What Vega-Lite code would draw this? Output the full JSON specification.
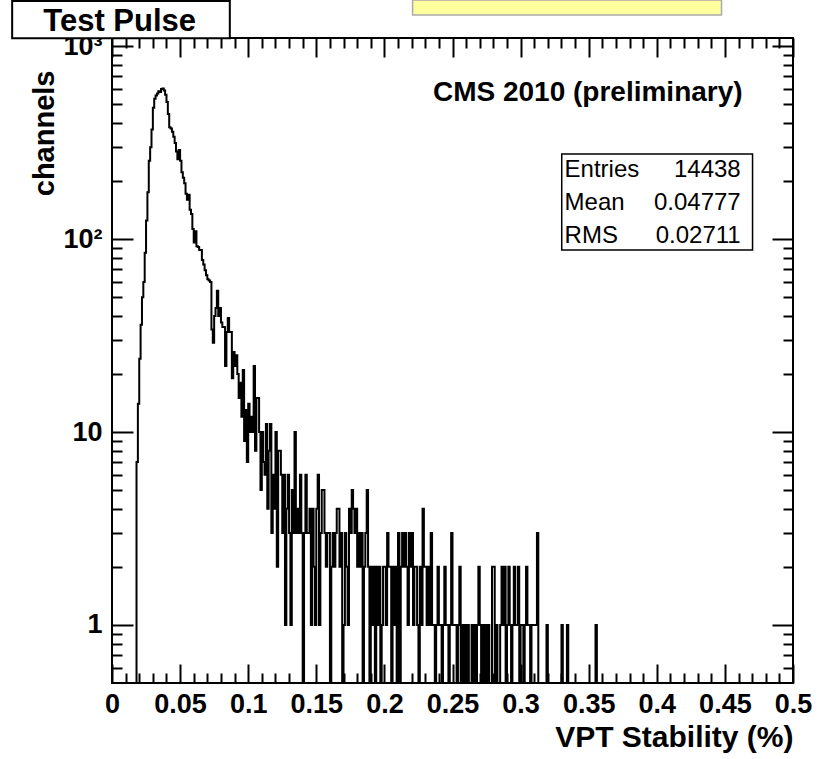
{
"$schema": "https://vega.github.io/schema/vega-lite/v6.json",
"width": 681,
"height": 645,
"autosize": {"type": "none"},
"padding": {"left": 112, "top": 38, "right": 35, "bottom": 76},
"background": "white",
"datasets": {
"h": [
{"x":0.000,"n":0},{"x":0.001,"n":0},{"x":0.002,"n":0},{"x":0.003,"n":0},{"x":0.004,"n":0},{"x":0.005,"n":0},{"x":0.006,"n":0},{"x":0.007,"n":0},{"x":0.008,"n":0},{"x":0.009,"n":0},
{"x":0.010,"n":0},{"x":0.011,"n":0},{"x":0.012,"n":0},{"x":0.013,"n":0},{"x":0.014,"n":0},{"x":0.015,"n":0},{"x":0.016,"n":0},{"x":0.017,"n":0},{"x":0.018,"n":7},{"x":0.019,"n":14},
{"x":0.020,"n":24},{"x":0.021,"n":36},{"x":0.022,"n":50},{"x":0.023,"n":60},{"x":0.024,"n":85},{"x":0.025,"n":125},{"x":0.026,"n":175},{"x":0.027,"n":255},{"x":0.028,"n":300},{"x":0.029,"n":370},
{"x":0.030,"n":480},{"x":0.031,"n":535},{"x":0.032,"n":555},{"x":0.033,"n":570},{"x":0.034,"n":585},{"x":0.035,"n":580},{"x":0.036,"n":600},{"x":0.037,"n":605},{"x":0.038,"n":590},{"x":0.039,"n":560},
{"x":0.040,"n":515},{"x":0.041,"n":445},{"x":0.042,"n":380},{"x":0.043,"n":375},{"x":0.044,"n":360},{"x":0.045,"n":340},{"x":0.046,"n":315},{"x":0.047,"n":285},{"x":0.048,"n":260},{"x":0.049,"n":290},
{"x":0.050,"n":255},{"x":0.051,"n":222},{"x":0.052,"n":208},{"x":0.053,"n":195},{"x":0.054,"n":172},{"x":0.055,"n":160},{"x":0.056,"n":170},{"x":0.057,"n":142},{"x":0.058,"n":135},{"x":0.059,"n":113},
{"x":0.060,"n":96},{"x":0.061,"n":110},{"x":0.062,"n":92},{"x":0.063,"n":91},{"x":0.064,"n":88},{"x":0.065,"n":88},{"x":0.066,"n":78},{"x":0.067,"n":74},{"x":0.068,"n":69},{"x":0.069,"n":65},
{"x":0.070,"n":62},{"x":0.071,"n":61},{"x":0.072,"n":60},{"x":0.073,"n":34},{"x":0.074,"n":29},{"x":0.075,"n":40},{"x":0.076,"n":44},{"x":0.077,"n":54},{"x":0.078,"n":40},{"x":0.079,"n":44},
{"x":0.080,"n":37},{"x":0.081,"n":35},{"x":0.082,"n":35},{"x":0.083,"n":22},{"x":0.084,"n":33},{"x":0.085,"n":39},{"x":0.086,"n":33},{"x":0.087,"n":33},{"x":0.088,"n":19},{"x":0.089,"n":26},
{"x":0.090,"n":22},{"x":0.091,"n":25},{"x":0.092,"n":20},{"x":0.093,"n":15},{"x":0.094,"n":18},{"x":0.095,"n":12},{"x":0.096,"n":21},{"x":0.097,"n":9},{"x":0.098,"n":13},{"x":0.099,"n":7},
{"x":0.100,"n":14},{"x":0.101,"n":10},{"x":0.102,"n":12},{"x":0.103,"n":10},{"x":0.104,"n":22},{"x":0.105,"n":8},{"x":0.106,"n":15},{"x":0.107,"n":15},{"x":0.108,"n":10},{"x":0.109,"n":5},
{"x":0.110,"n":10},{"x":0.111,"n":7},{"x":0.112,"n":6},{"x":0.113,"n":11},{"x":0.114,"n":4},{"x":0.115,"n":8},{"x":0.116,"n":11},{"x":0.117,"n":3},{"x":0.118,"n":6},{"x":0.119,"n":4},
{"x":0.120,"n":10},{"x":0.121,"n":2},{"x":0.122,"n":8},{"x":0.123,"n":8},{"x":0.124,"n":6},{"x":0.125,"n":3},{"x":0.126,"n":6},{"x":0.127,"n":1},{"x":0.128,"n":4},{"x":0.129,"n":6},
{"x":0.130,"n":3},{"x":0.131,"n":1},{"x":0.132,"n":5},{"x":0.133,"n":3},{"x":0.134,"n":10},{"x":0.135,"n":3},{"x":0.136,"n":4},{"x":0.137,"n":3},{"x":0.138,"n":6},{"x":0.139,"n":3},
{"x":0.140,"n":0},{"x":0.141,"n":3},{"x":0.142,"n":6},{"x":0.143,"n":3},{"x":0.144,"n":3},{"x":0.145,"n":4},{"x":0.146,"n":1},{"x":0.147,"n":4},{"x":0.148,"n":2},{"x":0.149,"n":1},
{"x":0.150,"n":4},{"x":0.151,"n":6},{"x":0.152,"n":1},{"x":0.153,"n":3},{"x":0.154,"n":5},{"x":0.155,"n":5},{"x":0.156,"n":3},{"x":0.157,"n":2},{"x":0.158,"n":3},{"x":0.159,"n":3},
{"x":0.160,"n":0},{"x":0.161,"n":2},{"x":0.162,"n":3},{"x":0.163,"n":2},{"x":0.164,"n":3},{"x":0.165,"n":4},{"x":0.166,"n":4},{"x":0.167,"n":2},{"x":0.168,"n":3},{"x":0.169,"n":0},
{"x":0.170,"n":1},{"x":0.171,"n":3},{"x":0.172,"n":2},{"x":0.173,"n":1},{"x":0.174,"n":4},{"x":0.175,"n":3},{"x":0.176,"n":5},{"x":0.177,"n":4},{"x":0.178,"n":3},{"x":0.179,"n":4},
{"x":0.180,"n":2},{"x":0.181,"n":3},{"x":0.182,"n":2},{"x":0.183,"n":3},{"x":0.184,"n":0},{"x":0.185,"n":2},{"x":0.186,"n":3},{"x":0.187,"n":5},{"x":0.188,"n":2},{"x":0.189,"n":0},
{"x":0.190,"n":2},{"x":0.191,"n":1},{"x":0.192,"n":2},{"x":0.193,"n":0},{"x":0.194,"n":2},{"x":0.195,"n":1},{"x":0.196,"n":2},{"x":0.197,"n":0},{"x":0.198,"n":1},{"x":0.199,"n":2},
{"x":0.200,"n":2},{"x":0.201,"n":1},{"x":0.202,"n":3},{"x":0.203,"n":2},{"x":0.204,"n":2},{"x":0.205,"n":0},{"x":0.206,"n":2},{"x":0.207,"n":1},{"x":0.208,"n":2},{"x":0.209,"n":0},
{"x":0.210,"n":3},{"x":0.211,"n":0},{"x":0.212,"n":2},{"x":0.213,"n":3},{"x":0.214,"n":2},{"x":0.215,"n":3},{"x":0.216,"n":2},{"x":0.217,"n":1},{"x":0.218,"n":3},{"x":0.219,"n":2},
{"x":0.220,"n":3},{"x":0.221,"n":1},{"x":0.222,"n":2},{"x":0.223,"n":2},{"x":0.224,"n":1},{"x":0.225,"n":0},{"x":0.226,"n":2},{"x":0.227,"n":1},{"x":0.228,"n":4},{"x":0.229,"n":2},
{"x":0.230,"n":2},{"x":0.231,"n":1},{"x":0.232,"n":2},{"x":0.233,"n":1},{"x":0.234,"n":3},{"x":0.235,"n":1},{"x":0.236,"n":1},{"x":0.237,"n":0},{"x":0.238,"n":1},{"x":0.239,"n":2},
{"x":0.240,"n":1},{"x":0.241,"n":1},{"x":0.242,"n":0},{"x":0.243,"n":1},{"x":0.244,"n":2},{"x":0.245,"n":1},{"x":0.246,"n":1},{"x":0.247,"n":0},{"x":0.248,"n":1},{"x":0.249,"n":3},
{"x":0.250,"n":1},{"x":0.251,"n":1},{"x":0.252,"n":1},{"x":0.253,"n":0},{"x":0.254,"n":1},{"x":0.255,"n":2},{"x":0.256,"n":0},{"x":0.257,"n":1},{"x":0.258,"n":0},{"x":0.259,"n":1},
{"x":0.260,"n":0},{"x":0.261,"n":1},{"x":0.262,"n":0},{"x":0.263,"n":0},{"x":0.264,"n":1},{"x":0.265,"n":0},{"x":0.266,"n":1},{"x":0.267,"n":0},{"x":0.268,"n":1},{"x":0.269,"n":2},
{"x":0.270,"n":1},{"x":0.271,"n":0},{"x":0.272,"n":1},{"x":0.273,"n":0},{"x":0.274,"n":1},{"x":0.275,"n":0},{"x":0.276,"n":1},{"x":0.277,"n":0},{"x":0.278,"n":0},{"x":0.279,"n":2},
{"x":0.280,"n":2},{"x":0.281,"n":0},{"x":0.282,"n":1},{"x":0.283,"n":0},{"x":0.284,"n":0},{"x":0.285,"n":1},{"x":0.286,"n":2},{"x":0.287,"n":1},{"x":0.288,"n":2},{"x":0.289,"n":0},
{"x":0.290,"n":1},{"x":0.291,"n":2},{"x":0.292,"n":1},{"x":0.293,"n":0},{"x":0.294,"n":1},{"x":0.295,"n":2},{"x":0.296,"n":1},{"x":0.297,"n":1},{"x":0.298,"n":2},{"x":0.299,"n":0},
{"x":0.300,"n":1},{"x":0.301,"n":1},{"x":0.302,"n":0},{"x":0.303,"n":1},{"x":0.304,"n":2},{"x":0.305,"n":1},{"x":0.306,"n":1},{"x":0.307,"n":0},{"x":0.308,"n":1},{"x":0.309,"n":1},
{"x":0.310,"n":1},{"x":0.311,"n":1},{"x":0.312,"n":3},{"x":0.313,"n":0},{"x":0.314,"n":0},{"x":0.315,"n":0},{"x":0.316,"n":0},{"x":0.317,"n":0},{"x":0.318,"n":0},{"x":0.319,"n":1},
{"x":0.320,"n":0},{"x":0.321,"n":0},{"x":0.322,"n":0},{"x":0.323,"n":0},{"x":0.324,"n":0},{"x":0.325,"n":0},{"x":0.326,"n":0},{"x":0.327,"n":0},{"x":0.328,"n":0},{"x":0.329,"n":0},
{"x":0.330,"n":1},{"x":0.331,"n":0},{"x":0.332,"n":0},{"x":0.333,"n":0},{"x":0.334,"n":1},{"x":0.335,"n":0},{"x":0.336,"n":0},{"x":0.337,"n":0},{"x":0.338,"n":0},{"x":0.339,"n":0},
{"x":0.340,"n":0},{"x":0.341,"n":0},{"x":0.342,"n":0},{"x":0.343,"n":0},{"x":0.344,"n":0},{"x":0.345,"n":0},{"x":0.346,"n":0},{"x":0.347,"n":0},{"x":0.348,"n":0},{"x":0.349,"n":0},
{"x":0.350,"n":0},{"x":0.351,"n":0},{"x":0.352,"n":0},{"x":0.353,"n":0},{"x":0.354,"n":0},{"x":0.355,"n":1},{"x":0.356,"n":0},{"x":0.357,"n":0},{"x":0.358,"n":0},{"x":0.359,"n":0},
{"x":0.360,"n":0}
]
},
"config": {
"view": {"stroke": "black", "strokeWidth": 2},
"axis": {
"grid": false, "domain": false,
"tickColor": "black", "tickWidth": 2,
"labelColor": "black", "titleColor": "black",
"labelFont": "Liberation Sans", "titleFont": "Liberation Sans",
"labelFontWeight": "bold", "titleFontWeight": "bold",
"labelFontSize": 27, "titleFontSize": 30,
"labelFlush": false, "labelOverlap": false, "labelBound": false
}
},
"resolve": {
"scale": {"x": "independent", "y": "independent"},
"axis": {"x": "independent", "y": "independent"}
},
"layer": [
{
"data": {"name": "h"},
"mark": {"type": "line", "interpolate": "step-after", "stroke": "black", "strokeWidth": 2, "invalid": "show"},
"encoding": {
"x": {"field": "x", "type": "quantitative",
"scale": {"domain": [0, 0.5], "nice": false, "zero": false},
"axis": {"orient": "bottom", "values": [0, 0.05, 0.1, 0.15, 0.2, 0.25, 0.3, 0.35, 0.4, 0.45, 0.5], "format": "~g",
"tickSize": -19, "labelPadding": 27,
"title": "VPT Stability (%)", "titleAnchor": "end", "titleAlign": "right", "titleBaseline": "alphabetic", "titleX": 681, "titleY": 63}},
"y": {"field": "n", "type": "quantitative",
"scale": {"type": "log", "domain": [0.5, 1104], "nice": false, "clamp": true},
"axis": {"orient": "left", "values": [1, 10, 100, 1000],
"labelExpr": "datum.value == 1 ? '1' : datum.value == 10 ? '10' : datum.value == 100 ? '10²' : '10³'",
"tickSize": -21, "labelPadding": 31,
"title": "channels", "titleAngle": 270, "titleAlign": "right", "titleBaseline": "alphabetic", "titleX": -59, "titleY": 32, "titleFontSize": 29}}
}
},
{
"data": {"name": "h"},
"mark": {"type": "line", "strokeOpacity": 0, "invalid": "show"},
"encoding": {
"x": {"field": "x", "type": "quantitative",
"scale": {"domain": [0, 0.5], "nice": false, "zero": false},
"axis": {"orient": "bottom", "values": [0.01,0.02,0.03,0.04,0.06,0.07,0.08,0.09,0.11,0.12,0.13,0.14,0.16,0.17,0.18,0.19,0.21,0.22,0.23,0.24,0.26,0.27,0.28,0.29,0.31,0.32,0.33,0.34,0.36,0.37,0.38,0.39,0.41,0.42,0.43,0.44,0.46,0.47,0.48,0.49],
"tickSize": -10, "labels": false, "title": null}},
"y": {"field": "n", "type": "quantitative",
"scale": {"type": "log", "domain": [0.5, 1104], "nice": false, "clamp": true},
"axis": {"orient": "left", "values": [0.6,0.7,0.8,0.9,2,3,4,5,6,7,8,9,20,30,40,50,60,70,80,90,200,300,400,500,600,700,800,900],
"tickSize": -10, "labels": false, "title": null}}
}
},
{
"data": {"name": "h"},
"mark": {"type": "line", "strokeOpacity": 0, "invalid": "show"},
"encoding": {
"x": {"field": "x", "type": "quantitative",
"scale": {"domain": [0, 0.5], "nice": false, "zero": false},
"axis": {"orient": "top", "values": [0, 0.05, 0.1, 0.15, 0.2, 0.25, 0.3, 0.35, 0.4, 0.45, 0.5],
"tickSize": -19, "labels": false, "title": null}},
"y": {"field": "n", "type": "quantitative",
"scale": {"type": "log", "domain": [0.5, 1104], "nice": false, "clamp": true},
"axis": {"orient": "right", "values": [1, 10, 100, 1000],
"tickSize": -21, "labels": false, "title": null}}
}
},
{
"data": {"name": "h"},
"mark": {"type": "line", "strokeOpacity": 0, "invalid": "show"},
"encoding": {
"x": {"field": "x", "type": "quantitative",
"scale": {"domain": [0, 0.5], "nice": false, "zero": false},
"axis": {"orient": "top", "values": [0.01,0.02,0.03,0.04,0.06,0.07,0.08,0.09,0.11,0.12,0.13,0.14,0.16,0.17,0.18,0.19,0.21,0.22,0.23,0.24,0.26,0.27,0.28,0.29,0.31,0.32,0.33,0.34,0.36,0.37,0.38,0.39,0.41,0.42,0.43,0.44,0.46,0.47,0.48,0.49],
"tickSize": -10, "labels": false, "title": null}},
"y": {"field": "n", "type": "quantitative",
"scale": {"type": "log", "domain": [0.5, 1104], "nice": false, "clamp": true},
"axis": {"orient": "right", "values": [0.6,0.7,0.8,0.9,2,3,4,5,6,7,8,9,20,30,40,50,60,70,80,90,200,300,400,500,600,700,800,900],
"tickSize": -10, "labels": false, "title": null}}
}
},
{
"data": {"values": [{}]},
"mark": {"type": "rect", "fill": "white", "stroke": "black", "strokeWidth": 1.5},
"encoding": {
"x": {"datum": 0.3302, "type": "quantitative", "scale": {"domain": [0, 0.5], "nice": false, "zero": false}, "axis": null},
"x2": {"datum": 0.4703},
"y": {"datum": 276.7, "type": "quantitative", "scale": {"type": "log", "domain": [0.5, 1104], "nice": false}, "axis": null},
"y2": {"datum": 88}
}
},
{
"data": {"values": [{}]},
"mark": {"type": "text", "text": ["Entries", "Mean", "RMS"], "align": "left", "baseline": "alphabetic", "lineHeight": 33, "font": "Liberation Sans", "fontSize": 24, "color": "black"},
"encoding": {
"x": {"datum": 0.3323, "type": "quantitative", "scale": {"domain": [0, 0.5], "nice": false, "zero": false}, "axis": null},
"y": {"datum": 210.3, "type": "quantitative", "scale": {"type": "log", "domain": [0.5, 1104], "nice": false}, "axis": null}
}
},
{
"data": {"values": [{}]},
"mark": {"type": "text", "text": ["14438", "0.04777", "0.02711"], "align": "right", "baseline": "alphabetic", "lineHeight": 33, "font": "Liberation Sans", "fontSize": 24, "color": "black"},
"encoding": {
"x": {"datum": 0.4616, "type": "quantitative", "scale": {"domain": [0, 0.5], "nice": false, "zero": false}, "axis": null},
"y": {"datum": 210.3, "type": "quantitative", "scale": {"type": "log", "domain": [0.5, 1104], "nice": false}, "axis": null}
}
},
{
"data": {"values": [{}]},
"mark": {"type": "text", "text": "CMS 2010 (preliminary)", "align": "right", "baseline": "alphabetic", "font": "Liberation Sans", "fontWeight": "bold", "fontSize": 28, "color": "black"},
"encoding": {
"x": {"datum": 0.4630, "type": "quantitative", "scale": {"domain": [0, 0.5], "nice": false, "zero": false}, "axis": null},
"y": {"datum": 520.6, "type": "quantitative", "scale": {"type": "log", "domain": [0.5, 1104], "nice": false}, "axis": null}
}
},
{
"data": {"values": [{}]},
"mark": {"type": "rect", "fill": "#ffff9e", "stroke": "#aaaaaa", "strokeWidth": 1.5},
"encoding": {
"x": {"datum": 0.2207, "type": "quantitative", "scale": {"domain": [0, 0.5], "nice": false, "zero": false}, "axis": null},
"x2": {"datum": 0.4475},
"y": {"datum": 1740, "type": "quantitative", "scale": {"type": "log", "domain": [0.5, 1104], "nice": false}, "axis": null},
"y2": {"datum": 1453}
}
},
{
"data": {"values": [{}]},
"mark": {"type": "rect", "fill": "white", "stroke": "black", "strokeWidth": 2},
"encoding": {
"x": {"datum": -0.0733, "type": "quantitative", "scale": {"domain": [0, 0.5], "nice": false, "zero": false}, "axis": null},
"x2": {"datum": 0.0865},
"y": {"datum": 1717, "type": "quantitative", "scale": {"type": "log", "domain": [0.5, 1104], "nice": false}, "axis": null},
"y2": {"datum": 1100}
}
},
{
"data": {"values": [{}]},
"mark": {"type": "text", "text": "Test Pulse", "align": "center", "baseline": "alphabetic", "font": "Liberation Sans", "fontWeight": "bold", "fontSize": 31, "color": "black"},
"encoding": {
"x": {"datum": 0.00565, "type": "quantitative", "scale": {"domain": [0, 0.5], "nice": false, "zero": false}, "axis": null},
"y": {"datum": 1200, "type": "quantitative", "scale": {"type": "log", "domain": [0.5, 1104], "nice": false}, "axis": null}
}
}
]
}
